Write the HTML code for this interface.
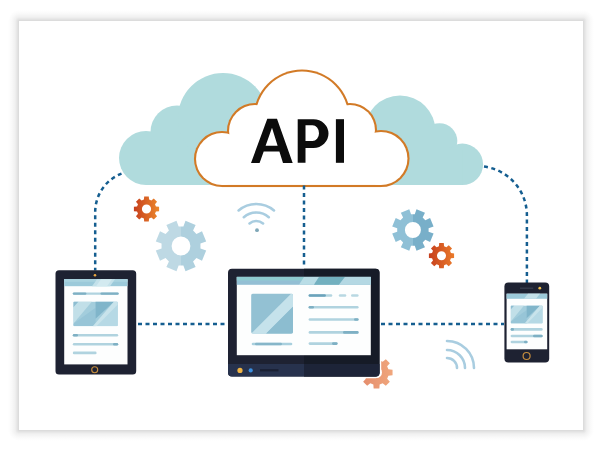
<!DOCTYPE html>
<html><head><meta charset="utf-8"><style>
html,body{margin:0;padding:0;background:#fff;width:600px;height:452px;overflow:hidden}
.sh{position:absolute}
.l{left:8px;top:21px;width:11px;height:409px;background:linear-gradient(to right,rgba(0,0,0,0) 0%,rgba(0,0,0,.02) 30%,rgba(0,0,0,.06) 65%,rgba(0,0,0,.15) 100%)}
.r{left:583px;top:21px;width:11px;height:409px;background:linear-gradient(to left,rgba(0,0,0,0) 0%,rgba(0,0,0,.02) 30%,rgba(0,0,0,.06) 65%,rgba(0,0,0,.15) 100%)}
.t{left:19px;top:10px;width:564px;height:11px;background:linear-gradient(to bottom,rgba(0,0,0,0) 0%,rgba(0,0,0,.02) 30%,rgba(0,0,0,.06) 65%,rgba(0,0,0,.15) 100%)}
.b{left:19px;top:430px;width:564px;height:11px;background:linear-gradient(to top,rgba(0,0,0,0) 0%,rgba(0,0,0,.02) 30%,rgba(0,0,0,.06) 65%,rgba(0,0,0,.15) 100%)}
.c1{left:8px;top:10px;width:11px;height:11px;background:radial-gradient(circle 11px at 100% 100%,rgba(0,0,0,.15) 0%,rgba(0,0,0,.06) 35%,rgba(0,0,0,.02) 70%,rgba(0,0,0,0) 100%)}
.c2{left:583px;top:10px;width:11px;height:11px;background:radial-gradient(circle 11px at 0 100%,rgba(0,0,0,.15) 0%,rgba(0,0,0,.06) 35%,rgba(0,0,0,.02) 70%,rgba(0,0,0,0) 100%)}
.c3{left:8px;top:430px;width:11px;height:11px;background:radial-gradient(circle 11px at 100% 0,rgba(0,0,0,.15) 0%,rgba(0,0,0,.06) 35%,rgba(0,0,0,.02) 70%,rgba(0,0,0,0) 100%)}
.c4{left:583px;top:430px;width:11px;height:11px;background:radial-gradient(circle 11px at 0 0,rgba(0,0,0,.15) 0%,rgba(0,0,0,.06) 35%,rgba(0,0,0,.02) 70%,rgba(0,0,0,0) 100%)}
svg{position:absolute;left:0;top:0}
</style></head><body>
<div class="sh l"></div><div class="sh r"></div><div class="sh t"></div><div class="sh b"></div><div class="sh c1"></div><div class="sh c2"></div><div class="sh c3"></div><div class="sh c4"></div>
<svg width="600" height="452" viewBox="0 0 600 452">
<defs>
<linearGradient id="gRed" x1="0" y1="0" x2="1" y2="0"><stop offset="0" stop-color="#c63f1d"/><stop offset="1" stop-color="#ec882c"/></linearGradient>
<linearGradient id="gRed2" x1="0" y1="0" x2="1" y2="0"><stop offset="0" stop-color="#c63f1d"/><stop offset="1" stop-color="#ea7a2a"/></linearGradient>
<linearGradient id="gBlue" x1="0" y1="0" x2="1" y2="0"><stop offset="0" stop-color="#8fc0d6"/><stop offset="0.5" stop-color="#8fc0d6"/><stop offset="0.5" stop-color="#78afc9"/><stop offset="1" stop-color="#78afc9"/></linearGradient>
<linearGradient id="gLBlue" x1="0" y1="0" x2="1" y2="0"><stop offset="0" stop-color="#bed9e4"/><stop offset="0.5" stop-color="#bed9e4"/><stop offset="0.5" stop-color="#aed0de"/><stop offset="1" stop-color="#aed0de"/></linearGradient>
<linearGradient id="gSal" x1="0" y1="0" x2="1" y2="0"><stop offset="0" stop-color="#e48c6c"/><stop offset="1" stop-color="#f0a67c"/></linearGradient>
</defs>
<g fill="#b0dbdd"><circle cx="146" cy="158" r="27"/><circle cx="177" cy="132" r="26.5"/><circle cx="223" cy="118" r="45"/><rect x="146" y="150" width="160" height="35"/><circle cx="400" cy="131" r="35.5"/><circle cx="439.5" cy="141" r="17.8"/><circle cx="462.4" cy="164.3" r="20.7"/><rect x="300" y="150" width="162.4" height="35"/><rect x="400" y="141" width="40" height="30"/></g>
<g fill="#d27a26"><circle cx="222" cy="159" r="28.05"/><circle cx="255" cy="131" r="28.05"/><circle cx="302" cy="118" r="48.55"/><circle cx="350" cy="130" r="27.05"/><circle cx="381" cy="158.5" r="28.55"/><rect x="222" y="150" width="159" height="37.05"/></g><g fill="#fff"><circle cx="222" cy="159" r="25.95"/><circle cx="255" cy="131" r="25.95"/><circle cx="302" cy="118" r="46.45"/><circle cx="350" cy="130" r="24.95"/><circle cx="381" cy="158.5" r="26.45"/><rect x="222" y="150" width="159" height="34.95"/></g>
<path fill="#0c0c0c" fill-rule="evenodd" d="M251,163 L267.3,118.8 L277,118.8 L292.7,163 L283,163 L279.4,151.4 L263.7,151.4 L259.6,163 Z M272,127.8 L277.6,145.7 L265.6,145.7 Z"/>
<path fill="#0c0c0c" fill-rule="evenodd" d="M297.7,162.8 V119.2 H313.5 A15,14.4 0 0 1 313.5,148 H305.5 V162.8 Z M305.5,125.3 H312.5 A6.5,7.9 0 0 1 312.5,141.1 H305.5 Z"/>
<rect x="335.9" y="119.2" width="8.1" height="43.6" fill="#0c0c0c"/>
<path d="M121.5,173.6 A41.2,41.2 0 0 0 95.2,212 L95.2,270.5" fill="none" stroke="#155e90" stroke-width="2.5" stroke-dasharray="4 3.5"/>
<path d="M484,166.6 A49.1,49.1 0 0 1 526.9,215.3 L526.9,283" fill="none" stroke="#155e90" stroke-width="2.5" stroke-dasharray="4 3.5"/>
<path d="M304,185.5 L304,268" fill="none" stroke="#155e90" stroke-width="2.5" stroke-dasharray="4 3.5"/>
<path d="M138,324.1 L228,324.1" fill="none" stroke="#155e90" stroke-width="2.5" stroke-dasharray="4 3.5"/>
<path d="M381,324.1 L504,324.1" fill="none" stroke="#155e90" stroke-width="2.5" stroke-dasharray="4 3.5"/>
<path fill="url(#gRed)" fill-rule="evenodd" d="M155.95,206.41L159.09,206.70L159.09,211.30L155.95,211.59L155.01,213.86L157.03,216.28L153.78,219.53L151.36,217.51L149.09,218.45L148.80,221.59L144.20,221.59L143.91,218.45L141.64,217.51L139.22,219.53L135.97,216.28L137.99,213.86L137.05,211.59L133.91,211.30L133.91,206.70L137.05,206.41L137.99,204.14L135.97,201.72L139.22,198.47L141.64,200.49L143.91,199.55L144.20,196.41L148.80,196.41L149.09,199.55L151.36,200.49L153.78,198.47L157.03,201.72L155.01,204.14ZM151.10,209.00A4.6,4.6 0 1 0 141.90,209.00A4.6,4.6 0 1 0 151.10,209.00Z"/>
<path fill="url(#gLBlue)" fill-rule="evenodd" d="M200.45,248.38L206.20,250.50L202.00,260.64L196.44,258.07L193.07,261.44L195.64,267.00L185.50,271.20L183.38,265.45L178.62,265.45L176.50,271.20L166.36,267.00L168.93,261.44L165.56,258.07L160.00,260.64L155.80,250.50L161.55,248.38L161.55,243.62L155.80,241.50L160.00,231.36L165.56,233.93L168.93,230.56L166.36,225.00L176.50,220.80L178.62,226.55L183.38,226.55L185.50,220.80L195.64,225.00L193.07,230.56L196.44,233.93L202.00,231.36L206.20,241.50L200.45,243.62ZM190.40,246.00A9.4,9.4 0 1 0 171.60,246.00A9.4,9.4 0 1 0 190.40,246.00Z"/>
<path fill="url(#gBlue)" fill-rule="evenodd" d="M428.59,231.86L433.59,233.61L430.08,242.08L425.31,239.78L422.68,242.41L424.98,247.18L416.51,250.69L414.76,245.69L411.04,245.69L409.29,250.69L400.82,247.18L403.12,242.41L400.49,239.78L395.72,242.08L392.21,233.61L397.21,231.86L397.21,228.14L392.21,226.39L395.72,217.92L400.49,220.22L403.12,217.59L400.82,212.82L409.29,209.31L411.04,214.31L414.76,214.31L416.51,209.31L424.98,212.82L422.68,217.59L425.31,220.22L430.08,217.92L433.59,226.39L428.59,228.14ZM420.90,230.00A8,8 0 1 0 404.90,230.00A8,8 0 1 0 420.90,230.00Z"/>
<path fill="url(#gRed2)" fill-rule="evenodd" d="M450.95,253.11L454.09,253.40L454.09,258.00L450.95,258.29L450.01,260.56L452.03,262.98L448.78,266.23L446.36,264.21L444.09,265.15L443.80,268.29L439.20,268.29L438.91,265.15L436.64,264.21L434.22,266.23L430.97,262.98L432.99,260.56L432.05,258.29L428.91,258.00L428.91,253.40L432.05,253.11L432.99,250.84L430.97,248.42L434.22,245.17L436.64,247.19L438.91,246.25L439.20,243.11L443.80,243.11L444.09,246.25L446.36,247.19L448.78,245.17L452.03,248.42L450.01,250.84ZM446.00,255.70A4.5,4.5 0 1 0 437.00,255.70A4.5,4.5 0 1 0 446.00,255.70Z"/>
<path fill="url(#gSal)" fill-rule="evenodd" d="M388.39,369.35L392.55,369.63L392.55,375.37L388.39,375.65L387.14,378.68L389.87,381.82L385.82,385.87L382.68,383.14L379.65,384.39L379.37,388.55L373.63,388.55L373.35,384.39L370.32,383.14L367.18,385.87L363.13,381.82L365.86,378.68L364.61,375.65L360.45,375.37L360.45,369.63L364.61,369.35L365.86,366.32L363.13,363.18L367.18,359.13L370.32,361.86L373.35,360.61L373.63,356.45L379.37,356.45L379.65,360.61L382.68,361.86L385.82,359.13L389.87,363.18L387.14,366.32ZM382.00,372.50A5.5,5.5 0 1 0 371.00,372.50A5.5,5.5 0 1 0 382.00,372.50Z"/>
<g fill="none" stroke="#a9cde0" stroke-width="2.6" stroke-linecap="round"><path d="M238.62,210.43A27.5,27.5 0 0 1 273.98,210.43"/><path d="M243.83,217.16A19,19 0 0 1 268.77,217.16"/><path d="M249.55,223.46A10.5,10.5 0 0 1 263.05,223.46"/></g>
<circle cx="257" cy="230.2" r="1.9" fill="#7fa8b8"/>
<g fill="none" stroke="#a9cde0" stroke-width="2.6" stroke-linecap="round"><path d="M447.00,341.00A27,27 0 0 1 474.00,368.00"/><path d="M447.00,350.00A18,18 0 0 1 465.00,368.00"/><path d="M447.00,358.00A10,10 0 0 1 457.00,368.00"/></g>
<rect x="55.5" y="270.2" width="80.7" height="104.4" rx="3.5" fill="#1e2232"/>
<rect x="64.2" y="279.2" width="63.3" height="85.2" fill="#fdfefe"/>
<rect x="64.2" y="279.2" width="63.3" height="7" fill="#9ccada"/>
<rect x="64.2" y="279.2" width="63.3" height="2.6" fill="#a9d3df"/>
<polygon points="97,279.2 115,279.2 110,286.2 92,286.2" fill="#c3e1ea"/>
<polygon points="101,279.2 112,279.2 107,286.2 96,286.2" fill="#d3eaf0"/>
<circle cx="95" cy="275.2" r="1.3" fill="#e9a640"/>
<circle cx="94.7" cy="369.7" r="3" fill="none" stroke="#c58d3e" stroke-width="1.15"/>
<rect x="72.8" y="292.40" width="45.90" height="2.4" rx="1.2" fill="#b0d3df"/><rect x="72.8" y="292.40" width="13.60" height="2.4" rx="1.2" fill="#7eb0c4"/><rect x="100.5" y="292.40" width="18.20" height="2.4" rx="1.2" fill="#7eb0c4"/>
<clipPath id="c733"><rect x="73.3" y="301.6" width="44.50" height="24.60" rx="1.2"/></clipPath><g clip-path="url(#c733)"><rect x="73.3" y="301.6" width="44.50" height="24.60" fill="#a3cddc"/><polygon points="73.3,301.6 78.64,301.6 73.3,307.50" fill="#8dbdd1"/><polygon points="78.64,301.6 91.99,301.6 73.3,323.74 73.3,307.50" fill="#c1dfe8"/><polygon points="73.3,326.2 73.3,323.74 95.55,307.75 95.55,326.2" fill="#97c5d7"/><polygon points="95.55,301.6 114.24,301.6 95.55,318.82" fill="#80b5ca"/><polygon points="114.24,301.6 117.8,301.6 117.8,326.2 92.88,326.2" fill="#b6d9e5"/><polygon points="114.24,301.6 117.8,301.6 117.8,304.55 96.44,326.2 92.88,326.2" fill="#c8e3eb"/></g>
<rect x="72.8" y="334.00" width="45.40" height="2.6" rx="1.3" fill="#b0d3df"/><rect x="72.8" y="334.00" width="5.20" height="2.6" rx="1.3" fill="#7eb0c4"/>
<rect x="72.8" y="343.00" width="45.40" height="2.6" rx="1.3" fill="#b0d3df"/><rect x="113" y="343.00" width="5.20" height="2.6" rx="1.3" fill="#7eb0c4"/>
<rect x="72.8" y="351.60" width="23.80" height="2.6" rx="1.3" fill="#b0d3df"/>
<rect x="350" y="345" width="31.2" height="33.2" rx="5.5" fill="#fff"/>
<rect x="228" y="268.7" width="151.5" height="107.8" rx="4" fill="#1e2232"/>
<path d="M304,268.7 H375.5 A4,4 0 0 1 379.5,272.7 V372.5 A4,4 0 0 1 375.5,376.5 H304Z" fill="#161b27"/>
<path d="M228,364 H304 V376.5 H232 A4,4 0 0 1 228,372.5Z" fill="#27324d"/>
<path d="M304,364 H379.5 V372.5 A4,4 0 0 1 375.5,376.5 H304Z" fill="#1d2438"/>
<rect x="236.8" y="276.9" width="134" height="78.3" fill="#fdfefe"/>
<rect x="236.8" y="276.9" width="134" height="7.9" fill="#93bfd4"/>
<rect x="236.8" y="276.9" width="134" height="3.6" fill="#8fcbd1"/>
<polygon points="304,276.9 319,276.9 314,284.8 299,284.8" fill="#b9dde6"/><polygon points="319,276.9 345,276.9 339,284.8 314,284.8" fill="#72b0bf"/><polygon points="345,276.9 370.8,276.9 370.8,284.8 339,284.8" fill="#b4d8e3"/>
<clipPath id="mimg"><rect x="251.1" y="293.5" width="41.9" height="40.2" rx="2"/></clipPath><g clip-path="url(#mimg)"><rect x="251.1" y="293.5" width="41.9" height="40.2" fill="#93c1d3"/><polygon points="251.1,333.7 266,333.7 293,306.7 293,293.5 291.3,293.5" fill="#c5e2eb"/><polygon points="266,333.7 293,306.7 293,333.7" fill="#8cbdd0"/></g>
<rect x="251.7" y="342.70" width="40.60" height="2.6" rx="1.3" fill="#a9d0de"/><rect x="255" y="342.70" width="27.00" height="2.6" rx="1.3" fill="#86b6c9"/>
<rect x="308.6" y="294.20" width="23.70" height="2.6" rx="1.3" fill="#b3d5e0"/><rect x="308.6" y="294.20" width="17.30" height="2.6" rx="1.3" fill="#6ba3bb"/>
<rect x="338.8" y="294.20" width="7.50" height="2.6" rx="1.3" fill="#b8d8e2"/>
<rect x="351" y="294.20" width="7.60" height="2.6" rx="1.3" fill="#b8d8e2"/>
<rect x="308.6" y="306.00" width="50.00" height="2.6" rx="1.3" fill="#b0d3df"/><rect x="308.6" y="306.00" width="5.40" height="2.6" rx="1.3" fill="#7eb0c4"/>
<rect x="308.6" y="318.20" width="50.00" height="2.6" rx="1.3" fill="#b0d3df"/><rect x="354" y="318.20" width="4.60" height="2.6" rx="1.3" fill="#7eb0c4"/>
<rect x="308.6" y="331.10" width="50.00" height="2.6" rx="1.3" fill="#b0d3df"/><rect x="343" y="331.10" width="15.60" height="2.6" rx="1.3" fill="#7eb0c4"/>
<rect x="308.6" y="342.30" width="29.00" height="2.6" rx="1.3" fill="#b0d3df"/><rect x="332" y="342.30" width="5.60" height="2.6" rx="1.3" fill="#7eb0c4"/>
<circle cx="240" cy="370.4" r="2.6" fill="#f0b444"/>
<circle cx="250.7" cy="370.4" r="2.1" fill="#3b8fe0"/>
<rect x="260" y="369.2" width="18.5" height="2.2" fill="#1a2032"/>
<rect x="504.4" y="282.6" width="44.8" height="79.8" rx="4" fill="#1e2232"/>
<rect x="506.6" y="293.7" width="40.6" height="55.6" fill="#fdfefe"/>
<rect x="506.6" y="293.7" width="40.6" height="5.1" fill="#9ccada"/>
<polygon points="528,293.7 540,293.7 536,298.8 524,298.8" fill="#c3e1ea"/>
<rect x="520" y="287.5" width="13.2" height="1.5" fill="#323848"/>
<circle cx="539.8" cy="288.2" r="1.4" fill="#f0bc4a"/>
<clipPath id="c5106"><rect x="510.6" y="305.4" width="32.10" height="18.20" rx="1"/></clipPath><g clip-path="url(#c5106)"><rect x="510.6" y="305.4" width="32.10" height="18.20" fill="#a3cddc"/><polygon points="510.6,305.4 514.45,305.4 510.6,309.77" fill="#8dbdd1"/><polygon points="514.45,305.4 524.08,305.4 510.6,321.78 510.6,309.77" fill="#c1dfe8"/><polygon points="510.6,323.6 510.6,321.78 526.65,309.95 526.65,323.6" fill="#97c5d7"/><polygon points="526.65,305.4 540.13,305.4 526.65,318.14" fill="#80b5ca"/><polygon points="540.13,305.4 542.7,305.4 542.7,323.6 524.72,323.6" fill="#b6d9e5"/><polygon points="540.13,305.4 542.7,305.4 542.7,307.58 527.29,323.6 524.72,323.6" fill="#c8e3eb"/></g>
<rect x="510.6" y="328.05" width="32.10" height="2.7" rx="1.35" fill="#b0d3df"/><rect x="510.6" y="328.05" width="3.40" height="2.7" rx="1.35" fill="#7eb0c4"/>
<rect x="510.6" y="334.65" width="32.10" height="2.7" rx="1.35" fill="#b0d3df"/><rect x="533" y="334.65" width="9.70" height="2.7" rx="1.35" fill="#7eb0c4"/>
<rect x="510.6" y="340.65" width="17.00" height="2.7" rx="1.35" fill="#b0d3df"/><rect x="524" y="340.65" width="3.60" height="2.7" rx="1.35" fill="#7eb0c4"/>
<circle cx="526.6" cy="356" r="3.5" fill="none" stroke="#c58d3e" stroke-width="1.2"/>
</svg>
</body></html>
